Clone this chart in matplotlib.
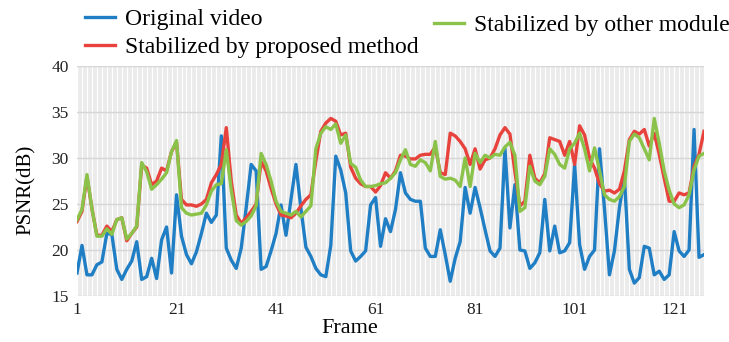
import matplotlib
matplotlib.use("Agg")
import matplotlib.pyplot as plt
import numpy as np

frames = list(range(1, 128))

original = [17.5, 20.5, 17.3, 17.3, 18.4, 18.7, 21.8, 21.7, 17.9, 16.8,
            17.9, 18.8, 20.9, 16.8, 17.1, 19.1, 16.9, 21.1, 22.5, 17.5,
            26.0, 21.5, 19.5, 18.5, 19.8, 21.8, 24.0, 23.0, 23.8, 32.4,
            20.2, 18.9, 18.0, 20.2, 24.6, 29.3, 28.6, 17.9, 18.2, 19.9,
            21.8, 24.9, 21.6, 25.5, 29.3, 24.5, 20.3, 19.3, 18.0, 17.3,
            17.1, 20.5, 30.2, 28.7, 26.2, 19.9, 18.8, 19.3, 19.9, 24.9,
            25.7, 20.4, 23.4, 22.0, 24.4, 28.4, 26.2, 25.5, 25.3, 25.3,
            20.2, 19.3, 19.3, 22.2, 19.5, 16.6, 19.1, 20.9, 26.8, 24.0,
            26.8, 24.6, 22.2, 19.9, 19.3, 20.2, 31.0, 22.4, 27.1, 20.0,
            19.9, 18.0, 18.6, 19.7, 25.5, 19.9, 22.6, 19.7, 19.9, 20.8,
            29.3, 20.6, 17.9, 19.3, 20.0, 31.0, 24.5, 17.3, 19.9, 24.6,
            28.0, 17.9, 16.4, 17.0, 20.4, 20.2, 17.3, 17.7, 16.8, 17.3,
            22.0, 19.9, 19.3, 20.0, 33.1, 19.2, 19.5]

proposed = [23.1, 24.2, 28.0, 24.5, 21.6, 21.6, 22.6, 22.0, 23.3, 23.5,
            21.0, 21.8, 22.5, 29.2, 28.9, 27.1, 27.5, 28.9, 28.6, 30.7,
            31.7, 25.5, 24.9, 24.9, 24.75, 25.0, 25.5, 27.3, 28.2, 29.3,
            33.3, 27.5, 23.8, 22.9, 23.5, 24.2, 25.0, 29.6, 28.6, 26.7,
            25.0, 23.8, 23.7, 23.5, 24.0, 24.8, 25.5, 26.0, 29.7, 32.9,
            33.8, 34.3, 34.0, 32.5, 32.7, 29.0, 27.8, 27.2, 26.9, 26.9,
            26.3, 27.0, 28.4, 27.8, 28.6, 30.3, 30.2, 29.9, 29.9, 30.3,
            30.4, 30.4, 31.2, 28.4, 28.2, 32.7, 32.4, 31.8, 31.0, 29.3,
            31.0, 28.8, 29.8, 30.0, 31.0, 32.5, 33.3, 32.6, 28.5, 24.8,
            25.3, 30.3, 27.8, 27.3, 28.3, 32.2, 32.0, 31.8, 30.3, 31.8,
            29.3, 33.5, 32.5, 30.0, 28.9, 27.2, 26.4, 26.5, 26.2, 26.6,
            28.6, 32.0, 32.9, 32.6, 33.1, 31.3, 32.7, 30.4, 27.8, 25.3,
            25.3, 26.2, 26.0, 26.2, 29.1, 30.4, 32.9]

other = [23.3, 24.4, 28.2, 24.5, 21.5, 21.5, 22.3, 21.7, 23.3, 23.5,
         21.2, 21.8, 22.6, 29.5, 28.5, 26.6, 27.1, 27.7, 28.4, 30.7,
         31.9, 24.6, 24.0, 23.8, 23.9, 24.0, 24.9, 26.4, 27.1, 27.2,
         30.9, 26.5, 23.2, 22.7, 23.1, 23.7, 24.8, 30.5, 29.3, 27.5,
         25.3, 24.2, 24.0, 23.8, 24.2, 23.6, 24.2, 24.8, 31.0, 32.7,
         33.4, 33.1, 33.7, 31.6, 32.5, 29.4, 29.0, 27.6, 26.9, 26.9,
         27.0, 27.2, 27.3, 27.8, 28.4, 29.8, 30.9, 29.3, 29.1, 29.8,
         29.5, 28.6, 31.8, 28.0, 27.7, 27.8, 27.6, 26.9, 30.0, 26.9,
         30.5, 29.5, 30.3, 30.0, 30.4, 30.3, 31.2, 31.7, 30.3, 24.2,
         24.6, 29.1, 27.5, 27.1, 28.0, 31.0, 30.4, 29.3, 28.9, 31.0,
         31.6, 32.7, 31.0, 28.6, 31.1, 28.6, 26.0, 25.5, 25.3, 25.8,
         26.9, 31.8, 32.6, 32.2, 31.0, 29.8, 34.3, 31.6, 28.6, 26.5,
         25.0, 24.6, 24.9, 26.0, 28.7, 30.2, 30.5]

xticks = [1, 21, 41, 61, 81, 101, 121]
yticks = [15, 20, 25, 30, 35, 40]
labels = ["Original video", "Stabilized by proposed method", "Stabilized by other module"]
colors = ["#1f7ec4", "#e8423c", "#8bc34a"]

plt.rcParams['font.family'] = ['Liberation Serif', 'DejaVu Serif']

fig = plt.figure(figsize=(7.29, 3.42), dpi=100)
ax = fig.add_axes([77/729, 1-296/342, (704-77)/729, (296-66)/342])
ax.set_facecolor("#ebebeb")

ax.set_xlim(frames[0], frames[-1])
ax.set_ylim(15, 40)
ax.set_xticks(xticks)
ax.set_yticks(yticks)
ax.set_xticks(frames, minor=True)
ax.grid(which='minor', axis='x', color='white', linewidth=0.8)
ax.grid(which='major', axis='x', color='white', linewidth=1.0)
ax.grid(which='major', axis='y', color='#d6d6d6', linewidth=1.0)
ax.set_axisbelow(True)
for s in ax.spines.values():
    s.set_visible(False)
ax.tick_params(which='both', length=0)
ax.tick_params(axis='both', labelsize=12.5, colors='#222222')
ax.tick_params(axis='x', pad=4)
ax.tick_params(axis='y', pad=6)

series = [original, proposed, other]
handles = []
for vals, lab, col in zip(series, labels, colors):
    h, = ax.plot(frames, vals, color=col, linewidth=2.4, label=lab, solid_joinstyle='round')
    handles.append(h)

ax.set_xlabel("Frame", fontsize=16)
ax.xaxis.set_label_coords((350-77)/627, -0.1)
ax.set_ylabel("PSNR(dB)", fontsize=15)
ax.yaxis.set_label_coords(-(77-36)/627, (296-190)/230)

legend_pos = [(85, 19), (85, 47), (434, 25)]
for h, lab, (lx, ly) in zip(handles, labels, legend_pos):
    lg = fig.legend(handles=[h], labels=[lab], loc='center left',
                    bbox_to_anchor=(lx/729, 1-ly/342), frameon=False, fontsize=17,
                    handlelength=1.25, handletextpad=0.45,
                    borderpad=0, borderaxespad=0)

fig.savefig("out.png", dpi=100)
